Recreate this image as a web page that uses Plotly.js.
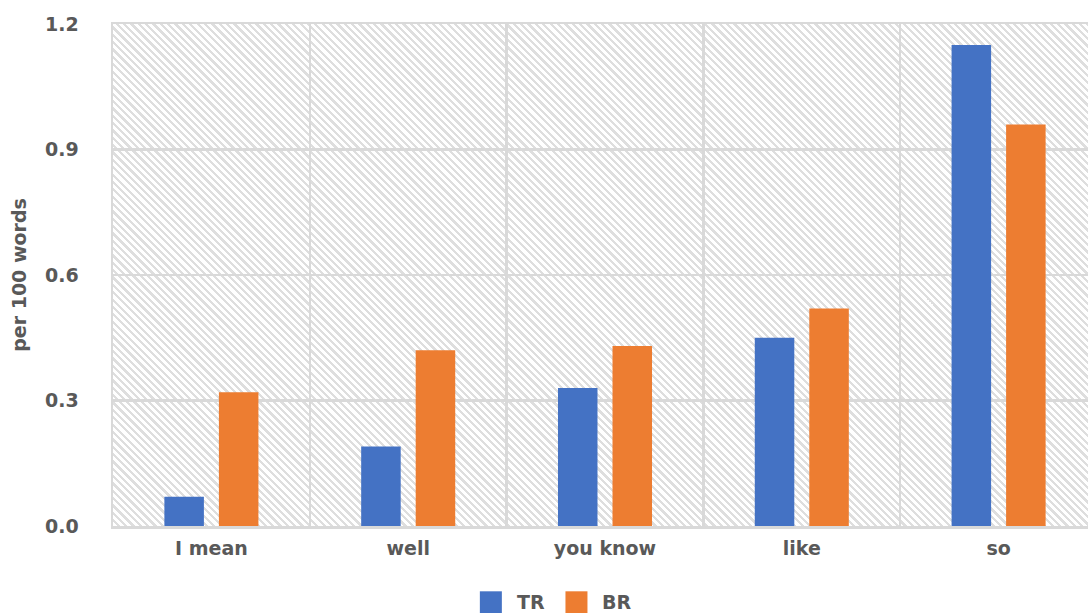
<!DOCTYPE html>
<html>
<head>
<meta charset="utf-8">
<script src="https://cdn.plot.ly/plotly-3.0.1.min.js"></script>
<style>
  html, body { margin: 0; padding: 0; background: #fff; overflow: hidden; }
  #wrap { position: relative; width: 1100px; height: 613px; }
  #hatch {
    position: absolute;
    background: repeating-linear-gradient(45deg, #ffffff 0px, #ffffff 2.9px, #dedede 2.9px, #dedede 5.2px);
  }
  #chart { position: absolute; left: 0; top: 0; }
</style>
</head>
<body>
<div id="wrap">
  <div id="hatch"></div>
  <div id="chart"></div>
</div>
<script>
// Discourse markers, frequency per 100 words
const categories = ["I mean", "well", "you know", "like", "so"];
const seriesNames = ["TR", "BR"];
const trValues = [0.07, 0.19, 0.33, 0.45, 1.15];
const brValues = [0.32, 0.42, 0.43, 0.52, 0.96];
const seriesColors = ["#4472C4", "#ED7D31"];
const yTickVals = [0, 0.3, 0.6, 0.9, 1.2];

const textColor = "#595959";
const gridColor = "#d9d9d9";
const fontFamily = "DejaVu Sans, sans-serif";
const boldFont = { family: fontFamily, size: 19, color: textColor, weight: "bold" };

const traces = [trValues, brValues].map((vals, i) => ({
  type: "bar",
  name: seriesNames[i],
  x: categories,
  y: vals,
  marker: { color: seriesColors[i], line: { width: 0 } },
  showlegend: false
}));

// Legend drawn below the axis: a square swatch and a label per series
const legendX = [0.384, 0.471];
const legendY = -0.152;
const shapes = [];
const annotations = [];
seriesNames.forEach((name, i) => {
  shapes.push({
    type: "rect",
    xref: "paper", yref: "paper",
    xsizemode: "pixel", ysizemode: "pixel",
    xanchor: legendX[i], yanchor: legendY,
    x0: -11, x1: 11, y0: -11, y1: 11,
    fillcolor: seriesColors[i],
    line: { width: 0 }
  });
  annotations.push({
    xref: "paper", yref: "paper",
    x: legendX[i], y: legendY,
    xshift: 24,
    xanchor: "left", yanchor: "middle",
    text: name,
    showarrow: false,
    font: boldFont
  });
});

const layout = {
  width: 1100,
  height: 613,
  margin: { l: 113, r: 3, t: 24, b: 87, autoexpand: false },
  paper_bgcolor: "rgba(0,0,0,0)",
  plot_bgcolor: "rgba(0,0,0,0)",
  font: boldFont,
  barmode: "group",
  bargap: 0.446,
  bargroupgap: 0.275,
  xaxis: {
    type: "category",
    tickson: "boundaries",
    showgrid: true,
    gridcolor: gridColor,
    gridwidth: 2.5,
    showline: true,
    linecolor: gridColor,
    linewidth: 2.5,
    mirror: true,
    ticks: "",
    ticklabelstandoff: 4,
    tickfont: boldFont
  },
  yaxis: {
    range: [0, 1.2],
    tickvals: yTickVals,
    tickformat: ".1f",
    showgrid: true,
    gridcolor: gridColor,
    gridwidth: 2.5,
    zeroline: false,
    showline: true,
    linecolor: gridColor,
    linewidth: 2.5,
    mirror: true,
    ticks: "",
    ticklabelstandoff: 28,
    tickfont: boldFont,
    title: { text: "per 100 words", standoff: 14, font: boldFont }
  },
  shapes: shapes,
  annotations: annotations,
  showlegend: false
};

const gd = document.getElementById("chart");
Plotly.newPlot(gd, traces, layout, { displayModeBar: false, staticPlot: true }).then(() => {
  // Hatched plot-area background sized to Plotly's own plot box
  const s = gd._fullLayout._size;
  const h = document.getElementById("hatch");
  h.style.left = s.l + "px";
  h.style.top = s.t + "px";
  h.style.width = s.w + "px";
  h.style.height = s.h + "px";
});
</script>
</body>
</html>
